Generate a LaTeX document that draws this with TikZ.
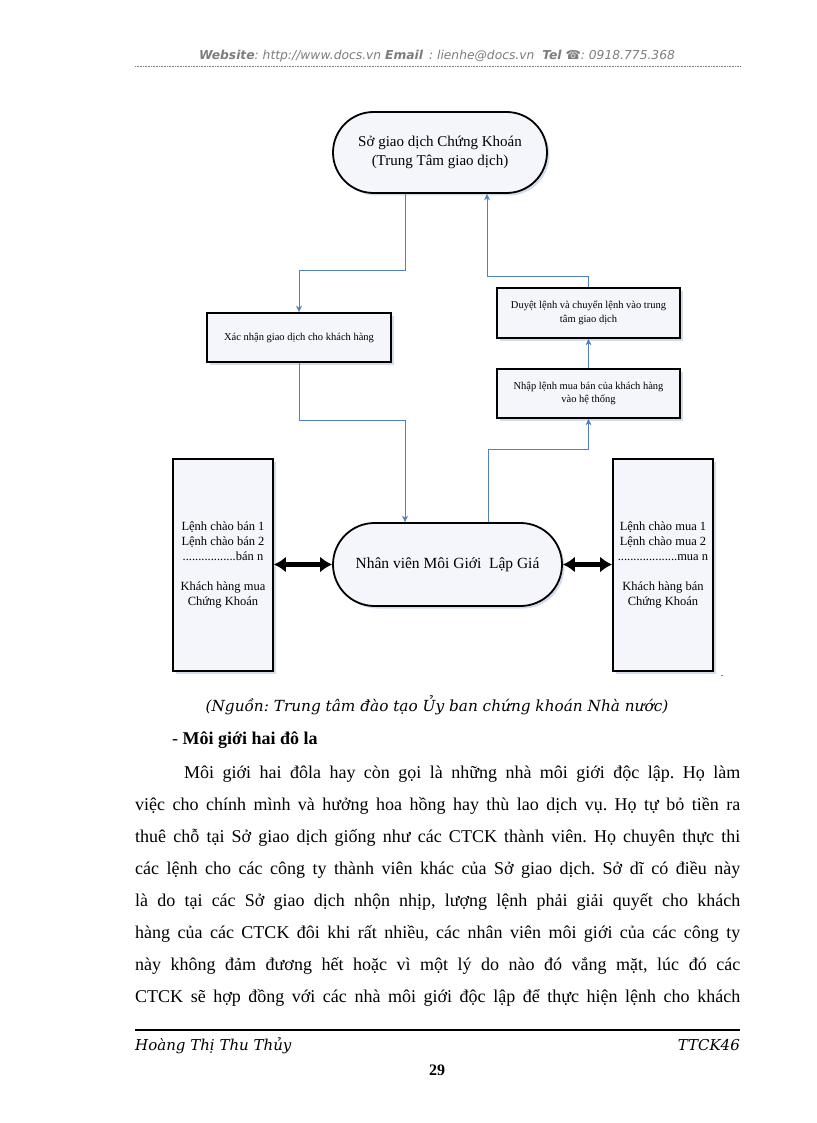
\documentclass[tikz,border=0pt]{standalone}
\usepackage{fontspec}
\setmainfont{Liberation Serif}
\newfontfamily\hdrfont{DejaVu Sans}
\newfontfamily\symfont{DejaVu Sans}
\newfontfamily\capfont{DejaVu Serif}
\usetikzlibrary{shapes.misc,arrows.meta,shadows,calc}
\definecolor{conn}{RGB}{79,129,189}
\definecolor{boxfill}{RGB}{244,246,251}
\definecolor{hdrgray}{RGB}{125,125,125}
\definecolor{shadowc}{RGB}{200,212,232}
\begin{document}
\frenchspacing
\begin{tikzpicture}[x=1pt,y=-1pt,
  shadowed/.style={drop shadow={shadow xshift=2.5pt,shadow yshift=-2.5pt,fill=shadowc,opacity=0.8}},
  stadium/.style={rounded rectangle, draw=black, line width=1.8pt, fill=boxfill, shadowed, inner sep=0pt, align=center, font=\fontsize{15}{19}\selectfont},
  smallbox/.style={rectangle, draw=black, line width=1.8pt, fill=boxfill, shadowed, inner sep=0pt, align=center, font=\fontsize{10.5}{13.5}\selectfont},
  sidebox/.style={rectangle, draw=black, line width=1.8pt, fill=boxfill, shadowed, inner sep=0pt, align=center, font=\fontsize{12.5}{15}\selectfont},
  flow/.style={color=conn, line width=0.9pt, -{Stealth[length=6.5pt,width=6pt]}},
  biarrow/.style={draw=black, line width=4.5pt, {Latex[length=12pt,width=16pt]}-{Latex[length=12pt,width=16pt]}},
  bodyline/.style={anchor=base west, inner sep=0pt, font=\fontsize{18}{20}\selectfont},
]
\useasboundingbox (0,0) rectangle (816,1123);
\fill[white] (0,0) rectangle (816,1123);

% header
\node[anchor=base, inner sep=0pt, text=hdrgray, font=\hdrfont\fontsize{12.3}{14}\selectfont\itshape] (hdr) at (437,60)
  {\textbf{Website}: http://www.docs.vn \textbf{Email} \,: lienhe@docs.vn \ \textbf{Tel} {\symfont\upshape ☎}: 0918.775.368};
\coordinate (hl) at (135,66);
\coordinate (hr) at (740,66);
\draw[hdrgray, line width=0.6pt, densely dotted] (hl) -- (hr);

% diagram nodes
\node[stadium, minimum width=214pt, minimum height=81pt] (t) at (440,152.5)
  {Sở giao dịch Chứng Khoán\\(Trung Tâm giao dịch)};
\node[smallbox, minimum width=184pt, minimum height=49pt] (x) at (299,337.5)
  {Xác nhận giao dịch cho khách hàng};
\node[smallbox, minimum width=183pt, minimum height=50pt] (d) at (588.5,313)
  {Duyệt lệnh và chuyển lệnh vào trung\\tâm giao dịch};
\node[smallbox, minimum width=183pt, minimum height=49pt] (n) at (588.5,393.5)
  {Nhập lệnh mua bán của khách hàng\\vào hệ thống};
\node[stadium, minimum width=229pt, minimum height=83pt, font=\fontsize{15.5}{19}\selectfont] (b) at (447.5,564.5)
  {Nhân viên Môi Giới \ Lập Giá};
\node[sidebox, minimum width=100pt, minimum height=212pt] (L) at (223,565)
  {Lệnh chào bán 1\\Lệnh chào bán 2\\.................bán n\\[15pt]Khách hàng mua\\Chứng Khoán};
\node[sidebox, minimum width=100pt, minimum height=212pt] (R) at (663,565)
  {Lệnh chào mua 1\\Lệnh chào mua 2\\...................mua n\\[15pt]Khách hàng bán\\Chứng Khoán};
\node[inner sep=0pt, font=\fontsize{10}{12}\selectfont] (dot) at (722,676) {.};

% connectors
\draw[flow] ($(t.south)+(-35,0)$) -- ++(0,77) -| (x.north);
\draw[flow] (x.south) -- ++(0,58) -| ($(b.north)+(-42.5,0)$);
\draw[flow] ($(b.north)+(40.5,0)$) -- ++(0,-73) -| (n.south);
\draw[flow] (n.north) -- (d.south);
\draw[flow] (d.north) -- ++(0,-11) -| ($(t.south)+(47,0)$);
\draw[biarrow] (b.west -| L.east) -- (b.west);
\draw[biarrow] (b.east) -- (b.east -| R.west);

% caption
\node[anchor=base, inner sep=0pt, font=\capfont\itshape\fontsize{15.3}{18}\selectfont] (cap) at (437,711)
  {(Nguồn: Trung tâm đào tạo Ủy ban chứng khoán Nhà nước)};
\node[anchor=base west, inner sep=0pt, font=\fontsize{18}{20}\selectfont] (ttl) at (172,744)
  {- \textbf{Môi giới hai đô la}};

% body text
\node[bodyline] (l1) at (184,778) {\makebox[556pt][s]{Môi giới hai đôla hay còn gọi là những nhà môi giới độc lập. Họ làm}};
\node[bodyline] (l2) at (135,810) {\makebox[605pt][s]{việc cho chính mình và hưởng hoa hồng hay thù lao dịch vụ. Họ tự bỏ tiền ra}};
\node[bodyline] (l3) at (135,842) {\makebox[605pt][s]{thuê chỗ tại Sở giao dịch giống như các CTCK thành viên. Họ chuyên thực thi}};
\node[bodyline] (l4) at (135,874) {\makebox[605pt][s]{các lệnh cho các công ty thành viên khác của Sở giao dịch. Sở dĩ có điều này}};
\node[bodyline] (l5) at (135,906) {\makebox[605pt][s]{là do tại các Sở giao dịch nhộn nhịp, lượng lệnh phải giải quyết cho khách}};
\node[bodyline] (l6) at (135,938) {\makebox[605pt][s]{hàng của các CTCK đôi khi rất nhiều, các nhân viên môi giới của các công ty}};
\node[bodyline] (l7) at (135,970) {\makebox[605pt][s]{này không đảm đương hết hoặc vì một lý do nào đó vắng mặt, lúc đó các}};
\node[bodyline] (l8) at (135,1002) {\makebox[605pt][s]{CTCK sẽ hợp đồng với các nhà môi giới độc lập để thực hiện lệnh cho khách}};

% footer
\coordinate (fl) at (135,1030);
\coordinate (fr) at (740,1030);
\draw[black, line width=1.6pt] (fl) -- (fr);
\node[anchor=base west, inner sep=0pt, font=\capfont\itshape\fontsize{15}{18}\selectfont] (auth) at (135,1050) {Hoàng Thị Thu Thủy};
\node[anchor=base east, inner sep=0pt, font=\capfont\itshape\fontsize{15}{18}\selectfont] (code) at (740,1050) {TTCK46};
\node[anchor=base, inner sep=0pt, font=\bfseries\fontsize{16}{18}\selectfont] (pg) at (437,1075) {29};
\end{tikzpicture}
\end{document}
